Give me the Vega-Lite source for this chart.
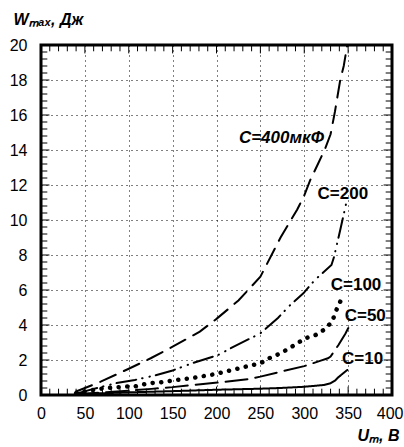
{
  "$schema": "https://vega.github.io/schema/vega-lite/v6.json",
  "width": 351,
  "height": 350,
  "autosize": "none",
  "padding": {"left": 41, "top": 45, "right": 12, "bottom": 52},
  "background": "white",
  "config": {
    "view": {"stroke": null},
    "font": "Liberation Sans",
    "axis": {
      "labelFont": "Liberation Sans",
      "labelFontSize": 16,
      "labelColor": "black",
      "labelFlush": false,
      "labelOverlap": false,
      "ticks": false,
      "domain": false,
      "titleFont": "Liberation Sans",
      "titleColor": "black"
    }
  },
  "datasets": {
    "curves": [
      {"c": "C=400", "u": 40, "w": 0.2}, {"c": "C=400", "u": 68, "w": 0.76}, {"c": "C=400", "u": 100, "w": 1.5},
      {"c": "C=400", "u": 125, "w": 2.1}, {"c": "C=400", "u": 150, "w": 2.76}, {"c": "C=400", "u": 181, "w": 3.62},
      {"c": "C=400", "u": 200, "w": 4.35}, {"c": "C=400", "u": 225, "w": 5.4}, {"c": "C=400", "u": 250, "w": 6.76},
      {"c": "C=400", "u": 273, "w": 9.0}, {"c": "C=400", "u": 292, "w": 10.6}, {"c": "C=400", "u": 300, "w": 11.4},
      {"c": "C=400", "u": 307, "w": 12.3}, {"c": "C=400", "u": 316, "w": 13.24}, {"c": "C=400", "u": 324, "w": 14.1},
      {"c": "C=400", "u": 330, "w": 14.9}, {"c": "C=400", "u": 335, "w": 16.2}, {"c": "C=400", "u": 341, "w": 18.0},
      {"c": "C=400", "u": 345, "w": 18.8}, {"c": "C=400", "u": 349, "w": 20.0},

      {"c": "C=200", "u": 42, "w": 0.1}, {"c": "C=200", "u": 60, "w": 0.35}, {"c": "C=200", "u": 85, "w": 0.67},
      {"c": "C=200", "u": 107, "w": 0.86}, {"c": "C=200", "u": 130, "w": 1.12}, {"c": "C=200", "u": 150, "w": 1.4},
      {"c": "C=200", "u": 172, "w": 1.81}, {"c": "C=200", "u": 202, "w": 2.29}, {"c": "C=200", "u": 218, "w": 2.72},
      {"c": "C=200", "u": 250, "w": 3.52}, {"c": "C=200", "u": 270, "w": 4.4}, {"c": "C=200", "u": 284, "w": 5.14},
      {"c": "C=200", "u": 299, "w": 5.81}, {"c": "C=200", "u": 312, "w": 6.57}, {"c": "C=200", "u": 331, "w": 7.43},
      {"c": "C=200", "u": 334, "w": 7.9}, {"c": "C=200", "u": 341, "w": 9.43}, {"c": "C=200", "u": 348, "w": 11.0},

      {"c": "C=100", "u": 40, "w": 0.1}, {"c": "C=100", "u": 55, "w": 0.25}, {"c": "C=100", "u": 71, "w": 0.38},
      {"c": "C=100", "u": 94, "w": 0.47}, {"c": "C=100", "u": 108, "w": 0.5}, {"c": "C=100", "u": 122, "w": 0.67},
      {"c": "C=100", "u": 136, "w": 0.72}, {"c": "C=100", "u": 155, "w": 0.86}, {"c": "C=100", "u": 175, "w": 0.99},
      {"c": "C=100", "u": 197, "w": 1.18}, {"c": "C=100", "u": 218, "w": 1.43}, {"c": "C=100", "u": 239, "w": 1.69},
      {"c": "C=100", "u": 250, "w": 1.81}, {"c": "C=100", "u": 260, "w": 2.1}, {"c": "C=100", "u": 271, "w": 2.34},
      {"c": "C=100", "u": 281, "w": 2.61}, {"c": "C=100", "u": 292, "w": 2.95}, {"c": "C=100", "u": 301, "w": 3.24},
      {"c": "C=100", "u": 313, "w": 3.43}, {"c": "C=100", "u": 322, "w": 3.71}, {"c": "C=100", "u": 332, "w": 4.19},
      {"c": "C=100", "u": 335, "w": 4.67}, {"c": "C=100", "u": 340, "w": 5.24}, {"c": "C=100", "u": 345, "w": 5.71},

      {"c": "C=50", "u": 40, "w": 0.05}, {"c": "C=50", "u": 70, "w": 0.15}, {"c": "C=50", "u": 100, "w": 0.25},
      {"c": "C=50", "u": 126, "w": 0.35}, {"c": "C=50", "u": 150, "w": 0.45}, {"c": "C=50", "u": 182, "w": 0.62},
      {"c": "C=50", "u": 204, "w": 0.72}, {"c": "C=50", "u": 238, "w": 0.92}, {"c": "C=50", "u": 250, "w": 1.05},
      {"c": "C=50", "u": 273, "w": 1.33}, {"c": "C=50", "u": 300, "w": 1.65}, {"c": "C=50", "u": 318, "w": 1.95},
      {"c": "C=50", "u": 327, "w": 2.1}, {"c": "C=50", "u": 330, "w": 2.2}, {"c": "C=50", "u": 339, "w": 2.86},
      {"c": "C=50", "u": 347, "w": 3.52}, {"c": "C=50", "u": 351, "w": 3.9},

      {"c": "C=10", "u": 40, "w": 0.05}, {"c": "C=10", "u": 100, "w": 0.15}, {"c": "C=10", "u": 150, "w": 0.22},
      {"c": "C=10", "u": 200, "w": 0.3}, {"c": "C=10", "u": 250, "w": 0.36}, {"c": "C=10", "u": 272, "w": 0.4},
      {"c": "C=10", "u": 300, "w": 0.47}, {"c": "C=10", "u": 322, "w": 0.57}, {"c": "C=10", "u": 330, "w": 0.67},
      {"c": "C=10", "u": 335, "w": 0.82}, {"c": "C=10", "u": 339, "w": 1.02}, {"c": "C=10", "u": 349, "w": 1.43}
    ],
    "labels": [
      {"t": "C=400мкФ", "u": 274, "w": 14.7},
      {"t": "C=200", "u": 344, "w": 11.5},
      {"t": "C=100", "u": 359, "w": 6.3},
      {"t": "C=50", "u": 369.5, "w": 4.5},
      {"t": "C=10", "u": 366.5, "w": 2.06}
    ],
    "xticks": [
      {"v": 10}, {"v": 20}, {"v": 30}, {"v": 40}, {"v": 50}, {"v": 60}, {"v": 70}, {"v": 80}, {"v": 90}, {"v": 100},
      {"v": 110}, {"v": 120}, {"v": 130}, {"v": 140}, {"v": 150}, {"v": 160}, {"v": 170}, {"v": 180}, {"v": 190}, {"v": 200},
      {"v": 210}, {"v": 220}, {"v": 230}, {"v": 240}, {"v": 250}, {"v": 260}, {"v": 270}, {"v": 280}, {"v": 290}, {"v": 300},
      {"v": 310}, {"v": 320}, {"v": 330}, {"v": 340}, {"v": 350}, {"v": 360}, {"v": 370}, {"v": 380}, {"v": 390}
    ],
    "yticks": [
      {"v": 0.4}, {"v": 0.8}, {"v": 1.2}, {"v": 1.6}, {"v": 2}, {"v": 2.4}, {"v": 2.8}, {"v": 3.2}, {"v": 3.6}, {"v": 4},
      {"v": 4.4}, {"v": 4.8}, {"v": 5.2}, {"v": 5.6}, {"v": 6}, {"v": 6.4}, {"v": 6.8}, {"v": 7.2}, {"v": 7.6}, {"v": 8},
      {"v": 8.4}, {"v": 8.8}, {"v": 9.2}, {"v": 9.6}, {"v": 10}, {"v": 10.4}, {"v": 10.8}, {"v": 11.2}, {"v": 11.6}, {"v": 12},
      {"v": 12.4}, {"v": 12.8}, {"v": 13.2}, {"v": 13.6}, {"v": 14}, {"v": 14.4}, {"v": 14.8}, {"v": 15.2}, {"v": 15.6}, {"v": 16},
      {"v": 16.4}, {"v": 16.8}, {"v": 17.2}, {"v": 17.6}, {"v": 18}, {"v": 18.4}, {"v": 18.8}, {"v": 19.2}, {"v": 19.6}
    ]
  },
  "layer": [
    {
      "data": {"name": "curves"},
      "mark": {"type": "line", "color": "black", "strokeCap": "round", "clip": true},
      "encoding": {
        "x": {
          "field": "u", "type": "quantitative",
          "scale": {"domain": [0, 400], "nice": false, "zero": false},
          "axis": {
            "orient": "bottom",
            "values": [0, 50, 100, 150, 200, 250, 300, 350, 400],
            "format": "d",
            "labelOverlap": false,
            "labelPadding": 10,
            "labelAlign": {"condition": {"test": "datum.value === 400", "value": "right"}, "value": "center"},
            "labelOffset": {"condition": {"test": "datum.value === 400", "value": 11}, "value": 0},
            "grid": true,
            "gridColor": "black",
            "gridDash": [1, 4],
            "gridWidth": 1,
            "title": "Uₘ, В",
            "titleFontSize": 16,
            "titleFontWeight": "bold",
            "titleFontStyle": "italic",
            "titleAlign": "right",
            "titleBaseline": "alphabetic",
            "titleAnchor": null,
            "titleX": 358,
            "titleY": 45
          }
        },
        "y": {
          "field": "w", "type": "quantitative",
          "scale": {"domain": [0, 20], "nice": false, "zero": false},
          "axis": {
            "orient": "left",
            "values": [0, 2, 4, 6, 8, 10, 12, 14, 16, 18, 20],
            "format": "d",
            "labelOverlap": false,
            "labelPadding": 14,
            "grid": true,
            "gridColor": "black",
            "gridDash": [1, 4],
            "gridWidth": 1,
            "title": "Wₘₐₓ, Дж",
            "titleAngle": 0,
            "titleFontSize": 16,
            "titleFontWeight": "bold",
            "titleFontStyle": "italic",
            "titleAlign": "left",
            "titleBaseline": "alphabetic",
            "titleAnchor": null,
            "titleX": -28,
            "titleY": -21
          }
        },
        "detail": {"field": "c"},
        "strokeDash": {
          "field": "c", "type": "nominal", "legend": null,
          "scale": {
            "domain": ["C=400", "C=200", "C=100", "C=50", "C=10"],
            "range": [[17, 9], [20, 6, 0.5, 7, 0.5, 6], [0.1, 8.5], [22, 8], [1, 0]]
          }
        },
        "strokeWidth": {
          "field": "c", "type": "nominal", "legend": null,
          "scale": {
            "type": "ordinal",
            "domain": ["C=400", "C=200", "C=100", "C=50", "C=10"],
            "range": [2, 2, 4.5, 2, 2]
          }
        }
      }
    },
    {
      "data": {"name": "xticks"},
      "transform": [{"filter": "datum.v % 50 !== 0"}],
      "mark": {"type": "rule", "color": "black", "strokeWidth": 1},
      "encoding": {"x": {"field": "v", "type": "quantitative", "axis": null}, "y": {"datum": 0, "axis": null}, "y2": {"datum": 0.36}}
    },
    {
      "data": {"name": "xticks"},
      "transform": [{"filter": "datum.v % 50 === 0"}],
      "mark": {"type": "rule", "color": "black", "strokeWidth": 1},
      "encoding": {"x": {"field": "v", "type": "quantitative", "axis": null}, "y": {"datum": 0, "axis": null}, "y2": {"datum": 0.48}}
    },
    {
      "data": {"name": "xticks"},
      "transform": [{"filter": "datum.v % 50 !== 0"}],
      "mark": {"type": "rule", "color": "black", "strokeWidth": 1},
      "encoding": {"x": {"field": "v", "type": "quantitative", "axis": null}, "y": {"datum": 20, "axis": null}, "y2": {"datum": 19.64}}
    },
    {
      "data": {"name": "xticks"},
      "transform": [{"filter": "datum.v % 50 === 0"}],
      "mark": {"type": "rule", "color": "black", "strokeWidth": 1},
      "encoding": {"x": {"field": "v", "type": "quantitative", "axis": null}, "y": {"datum": 20, "axis": null}, "y2": {"datum": 19.52}}
    },
    {
      "data": {"name": "yticks"},
      "transform": [{"filter": "datum.v % 2 !== 0"}],
      "mark": {"type": "rule", "color": "black", "strokeWidth": 1},
      "encoding": {"y": {"field": "v", "type": "quantitative", "axis": null}, "x": {"datum": 0, "axis": null}, "x2": {"datum": 7.2}}
    },
    {
      "data": {"name": "yticks"},
      "transform": [{"filter": "datum.v % 2 === 0"}],
      "mark": {"type": "rule", "color": "black", "strokeWidth": 1},
      "encoding": {"y": {"field": "v", "type": "quantitative", "axis": null}, "x": {"datum": 0, "axis": null}, "x2": {"datum": 9.6}}
    },
    {
      "data": {"name": "yticks"},
      "transform": [{"filter": "datum.v % 2 !== 0"}],
      "mark": {"type": "rule", "color": "black", "strokeWidth": 1},
      "encoding": {"y": {"field": "v", "type": "quantitative", "axis": null}, "x": {"datum": 400, "axis": null}, "x2": {"datum": 392.8}}
    },
    {
      "data": {"name": "yticks"},
      "transform": [{"filter": "datum.v % 2 === 0"}],
      "mark": {"type": "rule", "color": "black", "strokeWidth": 1},
      "encoding": {"y": {"field": "v", "type": "quantitative", "axis": null}, "x": {"datum": 400, "axis": null}, "x2": {"datum": 390.4}}
    },
    {
      "data": {"values": [{}]},
      "mark": {"type": "rect", "fill": null, "fillOpacity": 0, "stroke": "black", "strokeWidth": 3},
      "encoding": {"x": {"datum": 0, "axis": null}, "x2": {"datum": 400}, "y": {"datum": 0, "axis": null}, "y2": {"datum": 20}}
    },
    {
      "data": {"name": "labels"},
      "transform": [{"filter": "datum.t === 'C=400мкФ'"}],
      "mark": {"type": "text", "font": "Liberation Sans", "fontSize": 17, "fontWeight": "bold", "fontStyle": "italic", "color": "black", "align": "center", "baseline": "middle"},
      "encoding": {
        "x": {"field": "u", "type": "quantitative", "axis": null},
        "y": {"field": "w", "type": "quantitative", "axis": null},
        "text": {"field": "t"}
      }
    },
    {
      "data": {"name": "labels"},
      "transform": [{"filter": "datum.t !== 'C=400мкФ'"}],
      "mark": {"type": "text", "font": "Liberation Sans", "fontSize": 17, "fontWeight": "bold", "color": "black", "align": "center", "baseline": "middle"},
      "encoding": {
        "x": {"field": "u", "type": "quantitative", "axis": null},
        "y": {"field": "w", "type": "quantitative", "axis": null},
        "text": {"field": "t"}
      }
    }
  ],
  "resolve": {"axis": {"x": "independent", "y": "independent"}}
}
